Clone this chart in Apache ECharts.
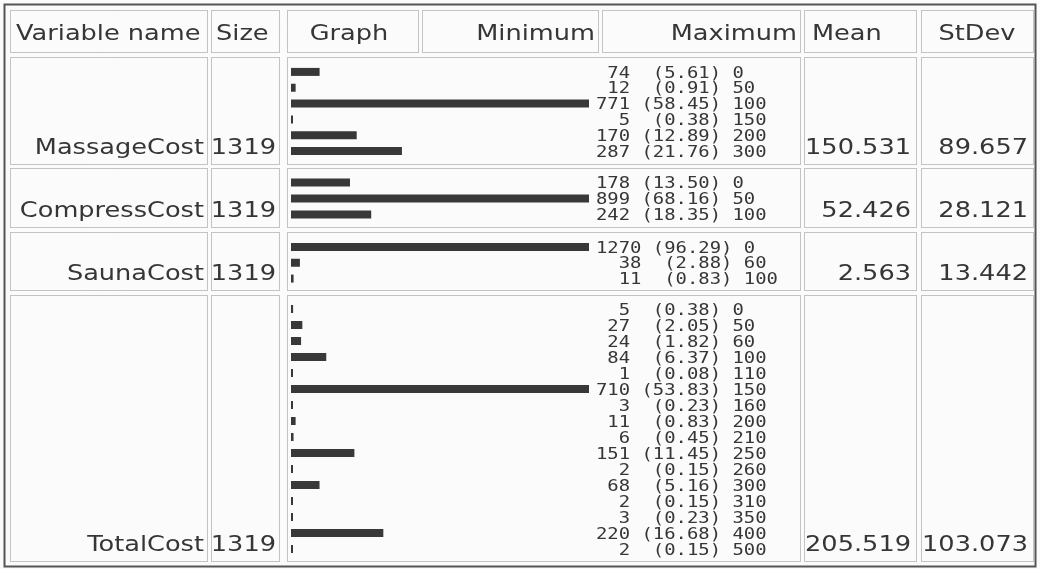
<!DOCTYPE html>
<html>
<head>
<meta charset="utf-8">
<title>Cost variables – frequency table</title>
<script src="https://cdn.jsdelivr.net/npm/echarts@6/dist/echarts.min.js"></script>
<style>
  html, body { margin: 0; padding: 0; background: #fbfbfb; }
  #chart { width: 1040px; height: 569px; }
</style>
</head>
<body>
<div id="chart"></div>
<script>
// ---- table data ----
const headerLabels = ['Variable name', 'Size', 'Graph', 'Minimum', 'Maximum', 'Mean', 'StDev'];
const variableNames = ['MassageCost', 'CompressCost', 'SaunaCost', 'TotalCost'];
const sizes = [1319, 1319, 1319, 1319];
const means = ['150.531', '52.426', '2.563', '205.519'];
const stdevs = ['89.657', '28.121', '13.442', '103.073'];

// ---- frequency tables: level, count, percent ----
const massageLevels = [0, 50, 100, 150, 200, 300];
const massageCounts = [74, 12, 771, 5, 170, 287];
const massagePercents = [5.61, 0.91, 58.45, 0.38, 12.89, 21.76];

const compressLevels = [0, 50, 100];
const compressCounts = [178, 899, 242];
const compressPercents = [13.50, 68.16, 18.35];

const saunaLevels = [0, 60, 100];
const saunaCounts = [1270, 38, 11];
const saunaPercents = [96.29, 2.88, 0.83];

const totalLevels = [0, 50, 60, 100, 110, 150, 160, 200, 210, 250, 260, 300, 310, 350, 400, 500];
const totalCounts = [5, 27, 24, 84, 1, 710, 3, 11, 6, 151, 2, 68, 2, 3, 220, 2];
const totalPercents = [0.38, 2.05, 1.82, 6.37, 0.08, 53.83, 0.23, 0.83, 0.45, 11.45, 0.15, 5.16, 0.15, 0.23, 16.68, 0.15];

const groups = [
  { levels: massageLevels, counts: massageCounts, pcts: massagePercents },
  { levels: compressLevels, counts: compressCounts, pcts: compressPercents },
  { levels: saunaLevels, counts: saunaCounts, pcts: saunaPercents },
  { levels: totalLevels, counts: totalCounts, pcts: totalPercents }
];

// ---- layout ----
const INK = '#363636';
const BAR = '#383838';
const CELL_LINE = '#8a8a8a';
const TABLE_FONT = '21px "DejaVu Sans"';
const TABLE_STRETCH = 1.22;
const MONO_FONT = '16px "DejaVu Sans Mono"';
const MONO_STRETCH = 1.18;

const graphLeft = 291, graphWidth = 298;
const gridTops = [64, 174.5, 239, 301];
const gridHeights = [95, 48, 47.5, 256];

const headerRow = [10, 52];
const headerCols = [[10, 207], [211, 279], [287, 418], [422, 598], [602, 800], [804, 916], [921, 1033]];
const bodyRows = [[57, 164], [168, 227], [232, 290], [295, 561]];
const bodyCols = [[10, 207], [211, 279], [287, 800], [804, 916], [921, 1033]];

// Header text anchors: [x, align]
const headerAnchors = [[16, 'left'], [216, 'left'], [349, 'center'], [595, 'right'], [797, 'right'], [812, 'left'], [977, 'center']];

// Each frequency line reads "count (pct) level", count and (pct) right-aligned
function freqLines(g) {
  const w = Math.max(...g.counts.map(c => String(c).length));
  return g.counts.map((c, j) =>
    String(c).padStart(w) + ' ' + ('(' + g.pcts[j].toFixed(2) + ')').padStart(7) + ' ' + g.levels[j]);
}

function cellRect(x0, x1, y0, y1) {
  return {
    type: 'rect', silent: true, z: 0,
    shape: { x: x0 + 0.5, y: y0 + 0.5, width: x1 - x0, height: y1 - y0 },
    style: { fill: 'none', stroke: CELL_LINE, lineWidth: 1, lineDash: [1, 1] }
  };
}

function tableText(text, x, y, align) {
  return {
    type: 'text', silent: true, z: 5,
    x: x, y: y, scaleX: TABLE_STRETCH,
    style: { text: text, font: TABLE_FONT, fill: INK, align: align, verticalAlign: 'middle' }
  };
}

const graphics = [];
// outer frame
graphics.push({
  type: 'rect', silent: true, z: 0,
  shape: { x: 4.5, y: 4.5, width: 1031, height: 562 },
  style: { fill: 'none', stroke: '#555', lineWidth: 2 }
});
// header cells
headerCols.forEach((c, i) => {
  graphics.push(cellRect(c[0], c[1], headerRow[0], headerRow[1]));
  graphics.push(tableText(headerLabels[i], headerAnchors[i][0], 34.5, headerAnchors[i][1]));
});
// body cells and their values
bodyRows.forEach((r, i) => {
  bodyCols.forEach(c => graphics.push(cellRect(c[0], c[1], r[0], r[1])));
  const ty = r[1] - 15.5;
  graphics.push(tableText(variableNames[i], 204, ty, 'right'));
  graphics.push(tableText(String(sizes[i]), 276, ty, 'right'));
  graphics.push(tableText(means[i], 911, ty, 'right'));
  graphics.push(tableText(stdevs[i], 1028, ty, 'right'));
});

const chart = echarts.init(document.getElementById('chart'), null, { renderer: 'canvas' });

const series = [];
groups.forEach((g, i) => {
  const maxCount = Math.max(...g.counts);
  const lines = freqLines(g);
  series.push({
    type: 'bar',
    xAxisIndex: i, yAxisIndex: i,
    data: g.counts,
    barWidth: 8,
    barMinHeight: 2,
    silent: true,
    itemStyle: { color: BAR },
    z: 3
  });
  // frequency text column, anchored at the end of the longest bar
  series.push({
    type: 'custom',
    xAxisIndex: i, yAxisIndex: i,
    data: g.counts.map((c, j) => [maxCount, j]),
    encode: { x: 0, y: 1 },
    clip: false,
    silent: true,
    z: 4,
    renderItem: function (params, api) {
      const p = api.coord([api.value(0), api.value(1)]);
      return {
        type: 'text',
        x: p[0] + 7, y: p[1] + 1.5,
        scaleX: MONO_STRETCH,
        style: { text: lines[params.dataIndex], font: MONO_FONT, fill: INK, align: 'left', verticalAlign: 'middle' }
      };
    }
  });
});

chart.setOption({
  backgroundColor: '#fbfbfb',
  animation: false,
  grid: groups.map((g, i) => ({ left: graphLeft, width: graphWidth, top: gridTops[i], height: gridHeights[i] })),
  xAxis: groups.map((g, i) => ({ type: 'value', gridIndex: i, min: 0, max: Math.max(...g.counts), show: false })),
  yAxis: groups.map((g, i) => ({ type: 'category', gridIndex: i, data: g.levels.map(String), inverse: true, show: false })),
  series: series,
  graphic: graphics
});
</script>
</body>
</html>
